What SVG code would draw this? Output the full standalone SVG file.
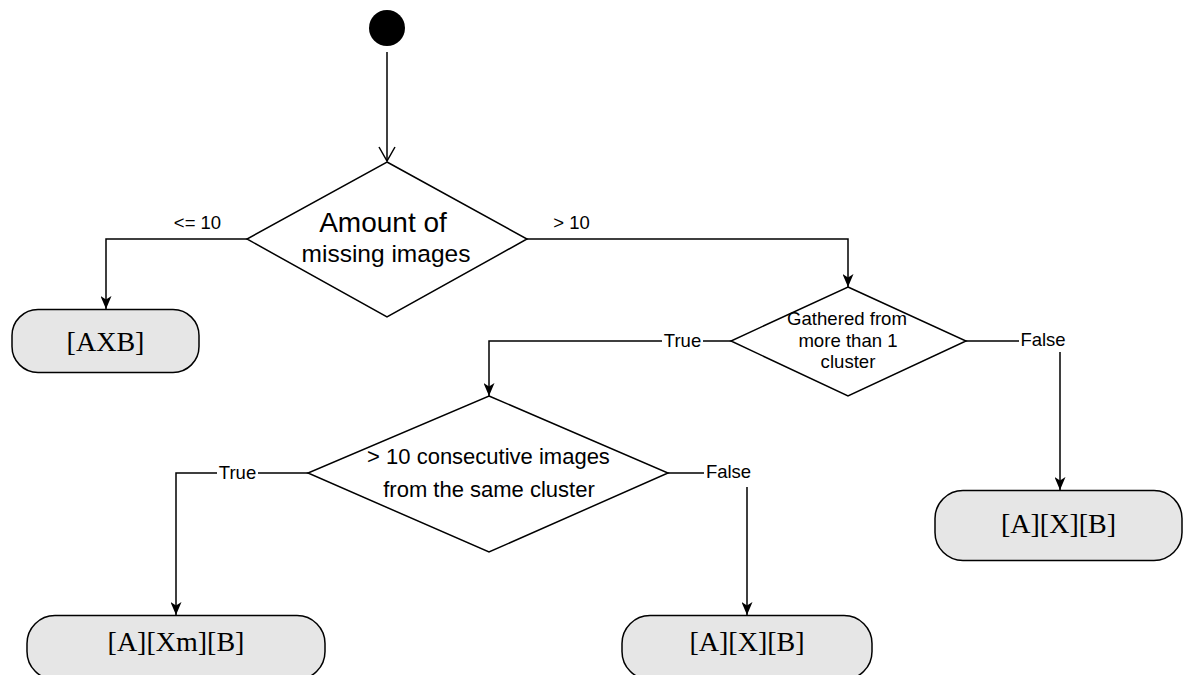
<svg xmlns="http://www.w3.org/2000/svg" width="1185" height="675" viewBox="0 0 1185 675">
  <style>
    .edge { fill: none; stroke: #000; stroke-width: 1.5; }
    .decision { fill: #fff; stroke: #000; stroke-width: 1.5; }
    .action { fill: #e6e6e6; stroke: #000; stroke-width: 1.5; }
    .sans { font-family: "Liberation Sans", Arial, sans-serif; fill: #000; text-anchor: middle; }
    .serif { font-family: "Liberation Serif", "Times New Roman", serif; fill: #000; text-anchor: middle; font-size: 28px; }
    .lbl { font-family: "Liberation Sans", Arial, sans-serif; fill: #000; font-size: 18.5px; text-anchor: middle; }
    .lblbg { fill: #fff; stroke: none; }
  </style>
  <defs>
    <marker id="filled" viewBox="0 0 13 11" refX="13" refY="5.5" markerWidth="13" markerHeight="11" markerUnits="userSpaceOnUse" orient="auto">
      <path d="M0,0 L13,5.5 L0,11 L3.5,5.5 z" fill="#000"/>
    </marker>
    <marker id="open" viewBox="0 0 16 18" refX="15" refY="9" markerWidth="16" markerHeight="18" markerUnits="userSpaceOnUse" orient="auto">
      <path d="M1,1 L15,9 L1,17" fill="none" stroke="#000" stroke-width="1.5"/>
    </marker>
  </defs>

  <!-- connectors -->
  <g id="connectors">
    <path class="edge" d="M387,52 L387,161" marker-end="url(#open)"/>
    <path class="edge" d="M247,239 L106,239 L106,309" marker-end="url(#filled)"/>
    <path class="edge" d="M527,239 L848,239 L848,287" marker-end="url(#filled)"/>
    <path class="edge" d="M731,341 L489,341 L489,396" marker-end="url(#filled)"/>
    <path class="edge" d="M966,341 L1060,341 L1060,490" marker-end="url(#filled)"/>
    <path class="edge" d="M308,473 L176,473 L176,615" marker-end="url(#filled)"/>
    <path class="edge" d="M668,473 L747,473 L747,615" marker-end="url(#filled)"/>

    <!-- edge labels -->
    <text class="lbl" x="197.5" y="229">&lt;= 10</text>
    <text class="lbl" x="571.5" y="229">&gt; 10</text>
    <rect class="lblbg" x="662" y="330" width="41" height="21"/>
    <text class="lbl" x="682.5" y="347">True</text>
    <rect class="lblbg" x="1019" y="329" width="48" height="23"/>
    <text class="lbl" x="1043" y="346">False</text>
    <rect class="lblbg" x="217" y="462" width="41" height="21"/>
    <text class="lbl" x="237.5" y="479">True</text>
    <rect class="lblbg" x="704" y="461" width="49" height="26"/>
    <text class="lbl" x="728.5" y="478">False</text>
  </g>

  <g id="start">
    <circle cx="387" cy="28" r="18" fill="#000"/>
  </g>

  <g id="decision-missing">
    <polygon class="decision" points="387,162 527,239 387,317 247,239"/>
    <text class="sans" x="383" y="232" font-size="28">Amount of</text>
    <text class="sans" x="386" y="262" font-size="24.5">missing images</text>
  </g>

  <g id="action-axb">
    <rect class="action" x="12" y="309.5" width="187" height="63" rx="26"/>
    <text class="serif" x="105.5" y="351">[AXB]</text>
  </g>

  <g id="decision-clusters">
    <polygon class="decision" points="848,287 966,341 848,396 731,341"/>
    <text class="sans" x="847" y="325" font-size="18.6">Gathered from</text>
    <text class="sans" x="848" y="347" font-size="18.6">more than 1</text>
    <text class="sans" x="848" y="368" font-size="18.6">cluster</text>
  </g>

  <g id="action-axb-split">
    <rect class="action" x="935" y="490.5" width="247" height="70" rx="28"/>
    <text class="serif" x="1058.5" y="533">[A][X][B]</text>
  </g>

  <g id="decision-consecutive">
    <polygon class="decision" points="489,396 668,473 489,552 308,473"/>
    <text class="sans" x="488.5" y="464" font-size="22">&gt; 10 consecutive images</text>
    <text class="sans" x="489" y="497" font-size="22">from the same cluster</text>
  </g>

  <g id="action-axmb">
    <rect class="action" x="27" y="615.5" width="298" height="64" rx="28"/>
    <text class="serif" x="176" y="651">[A][X<tspan>m</tspan>][B]</text>
  </g>

  <g id="action-axb-same">
    <rect class="action" x="622" y="615.5" width="250" height="64" rx="28"/>
    <text class="serif" x="747" y="651">[A][X][B]</text>
  </g>
</svg>
